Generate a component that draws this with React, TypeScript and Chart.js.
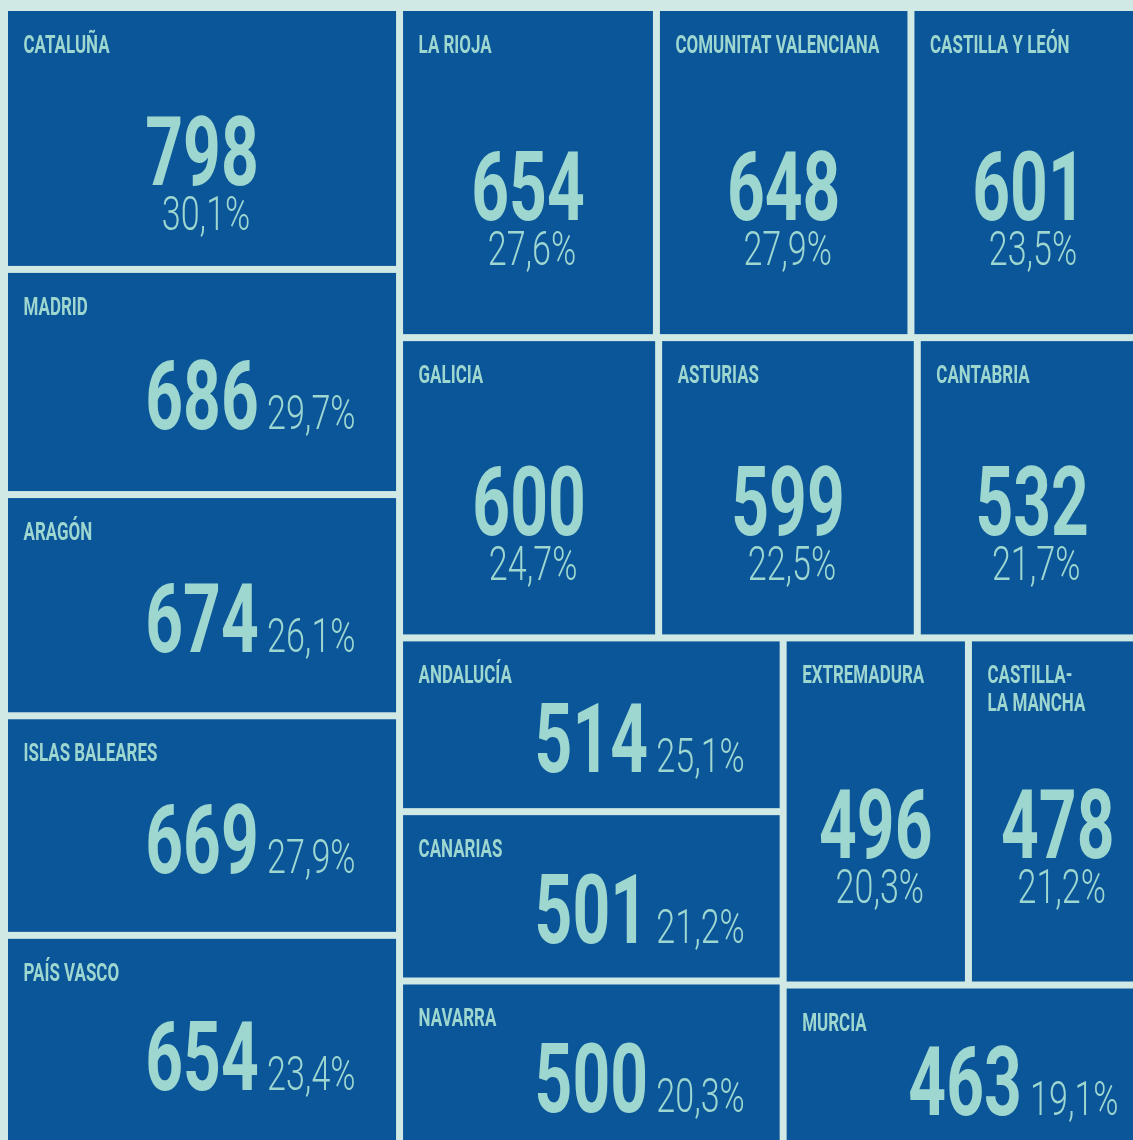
import React, { useEffect, useRef } from "react";
import { Chart, registerables } from "chart.js";

Chart.register(...registerables);

// ---- data ----
const regions = [
  "Cataluña",
  "Madrid",
  "Aragón",
  "Islas Baleares",
  "País Vasco",
  "La Rioja",
  "Comunitat Valenciana",
  "Castilla y León",
  "Galicia",
  "Asturias",
  "Cantabria",
  "Andalucía",
  "Canarias",
  "Navarra",
  "Extremadura",
  "Castilla-\nLa Mancha",
  "Murcia",
];
const values = [798, 686, 674, 669, 654, 654, 648, 601, 600, 599, 532, 514, 501, 500, 496, 478, 463];
const shares = [30.1, 29.7, 26.1, 27.9, 23.4, 27.6, 27.9, 23.5, 24.7, 22.5, 21.7, 25.1, 21.2, 20.3, 20.3, 21.2, 19.1];

// ---- styles ----
const BG = "#d0e9e5";
const CELL = "#0b5599";
const INK = "#9dd7d0";
const GAP = 7;
const LABEL_FONT = "700 26.5px Roboto";
const NUM_FONT = "700 97px Roboto";
const PCT_FONT = "300 48px Roboto";
const LABEL_SX = 0.64;
const NUM_SX = 0.68;
const PCT_SX = 0.71;
const PHI = (1 + Math.sqrt(5)) / 2;

type Rect = { x0: number; y0: number; x1: number; y1: number };

// squarified treemap (same rule as d3.treemapSquarify with golden ratio)
function squarify(vals: number[], x0: number, y0: number, x1: number, y1: number, ratio: number): Rect[] {
  const n = vals.length;
  const rects: Rect[] = new Array(n);
  let value = vals.reduce((a, b) => a + b, 0);
  let i0 = 0;
  let i1 = 0;
  while (i0 < n) {
    const dx = x1 - x0;
    const dy = y1 - y0;
    let sumValue = vals[i1++];
    let minV = sumValue;
    let maxV = sumValue;
    const alpha = Math.max(dy / dx, dx / dy) / (value * ratio);
    let beta = sumValue * sumValue * alpha;
    let minRatio = Math.max(maxV / beta, beta / minV);
    for (; i1 < n; ++i1) {
      const v = vals[i1];
      sumValue += v;
      if (v < minV) minV = v;
      if (v > maxV) maxV = v;
      beta = sumValue * sumValue * alpha;
      const newRatio = Math.max(maxV / beta, beta / minV);
      if (newRatio > minRatio) {
        sumValue -= v;
        break;
      }
      minRatio = newRatio;
    }
    const dice = dx < dy - 0.01;
    if (dice) {
      const yk = y0 + (dy * sumValue) / value;
      let x = x0;
      for (let i = i0; i < i1; i++) {
        const w = (dx * vals[i]) / sumValue;
        rects[i] = { x0: x, y0, x1: x + w, y1: yk };
        x += w;
      }
      y0 = yk;
    } else {
      const xk = x0 + (dx * sumValue) / value;
      let y = y0;
      for (let i = i0; i < i1; i++) {
        const h = (dy * vals[i]) / sumValue;
        rects[i] = { x0, y0: y, x1: xk, y1: y + h };
        y += h;
      }
      x0 = xk;
    }
    value -= sumValue;
    i0 = i1;
  }
  return rects;
}

function condensedText(
  ctx: CanvasRenderingContext2D,
  text: string,
  x: number,
  y: number,
  align: CanvasTextAlign,
  font: string,
  sx: number
) {
  ctx.save();
  ctx.translate(x, y);
  ctx.scale(sx, 1);
  ctx.font = font;
  ctx.textAlign = align;
  ctx.textBaseline = "alphabetic";
  ctx.fillText(text, 0, 0);
  ctx.restore();
}

const treemapPlugin = {
  id: "treemapCells",
  afterDatasetsDraw(chart: any) {
    const { ctx } = chart;
    const xs = chart.scales.x;
    const ys = chart.scales.y;
    const left = xs.getPixelForValue(xs.min);
    const right = xs.getPixelForValue(xs.max);
    const top = ys.getPixelForValue(ys.max);
    const bottom = ys.getPixelForValue(ys.min);
    const cells = squarify(values, left, top, right, bottom, PHI);
    const p = GAP / 2;
    ctx.save();
    cells.forEach((r, i) => {
      const x0 = r.x0 + p;
      const y0 = r.y0 + p;
      const x1 = r.x1 - p;
      const y1 = r.y1 - p;
      ctx.fillStyle = CELL;
      ctx.fillRect(x0, y0, x1 - x0, y1 - y0);
      const h = y1 - y0;
      const cx = (x0 + x1) / 2;
      const cy = (y0 + y1) / 2;
      ctx.fillStyle = INK;
      regions[i]
        .toUpperCase()
        .split("\n")
        .forEach((ln, k) => condensedText(ctx, ln, x0 + 15.5, y0 + 42 + k * 27.5, "left", LABEL_FONT, LABEL_SX));
      const numTxt = String(values[i]);
      const pctTxt = shares[i].toFixed(1).replace(".", ",") + "%";
      const base = cy + 47;
      if (h < 240) {
        condensedText(ctx, numTxt, cx, base, "center", NUM_FONT, NUM_SX);
        condensedText(ctx, pctTxt, cx + 65, base, "left", PCT_FONT, PCT_SX);
      } else {
        condensedText(ctx, numTxt, cx, base, "center", NUM_FONT, NUM_SX);
        condensedText(ctx, pctTxt, cx + 4, base + 45, "center", PCT_FONT, PCT_SX);
      }
    });
    ctx.restore();
  },
};

export default function App() {
  const ref = useRef<HTMLCanvasElement | null>(null);
  useEffect(() => {
    if (!ref.current) return;
    const chart = new Chart(ref.current, {
      type: "scatter",
      data: { datasets: [{ label: "Regiones", data: [], pointRadius: 0 }] },
      options: {
        animation: false,
        responsive: false,
        devicePixelRatio: 1,
        layout: { padding: { left: 4.5, top: 7.5, right: 0, bottom: 0 } },
        plugins: { legend: { display: false }, tooltip: { enabled: false } },
        scales: {
          x: { type: "linear", min: 0, max: 1, display: false },
          y: { type: "linear", min: 0, max: 1, display: false },
        },
      },
      plugins: [treemapPlugin],
    } as any);
    if ((document as any).fonts) {
      Promise.all([
        (document as any).fonts.load(NUM_FONT),
        (document as any).fonts.load(PCT_FONT),
        (document as any).fonts.load(LABEL_FONT),
      ])
        .then(() => chart.draw())
        .catch(() => {});
    }
    return () => chart.destroy();
  }, []);
  return (
    <div style={{ position: "fixed", left: 0, top: 0, right: 0, bottom: 0, overflow: "hidden", background: BG }}>
      <canvas ref={ref} width={1147} height={1150} style={{ display: "block", width: 1147, height: 1150 }} />
    </div>
  );
}
